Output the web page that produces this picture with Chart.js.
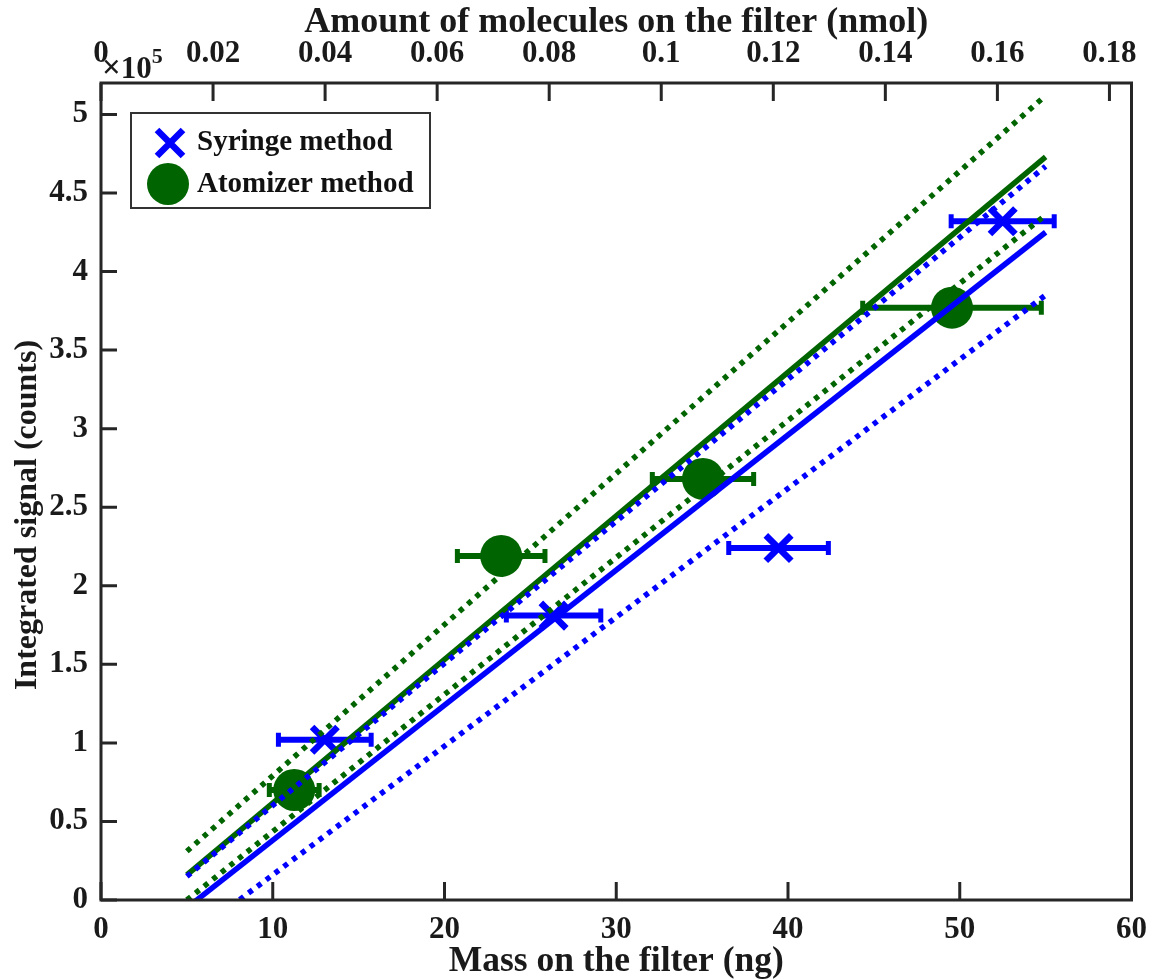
<!DOCTYPE html>
<html>
<head>
<meta charset="utf-8">
<script src="https://cdn.jsdelivr.net/npm/chart.js@4.4.1/dist/chart.umd.min.js"></script>
<style>
  html, body { margin: 0; padding: 0; background: #ffffff; }
  #wrap { width: 1158px; height: 980px; }
</style>
</head>
<body>
<div id="wrap"><canvas id="c" width="1158" height="980"></canvas></div>
<script>
// ---------------- data ----------------
const syringeMass   = [13.03, 26.35, 39.45, 52.5];  // ng
const syringeSignal = [1.02, 1.81, 2.24, 4.32];     // x1e5 counts
const syringeErr    = [2.7, 2.75, 2.9, 3.0];        // ng (horizontal error)

const atomizerMass   = [11.25, 23.3, 35.05, 49.55];
const atomizerSignal = [0.70, 2.19, 2.68, 3.77];
const atomizerErr    = [1.45, 2.55, 2.95, 5.2];

// fit lines and confidence bands (start / end)
const lineMass        = [5, 55];
const syringeFit      = [-0.05, 4.25];
const syringeUpper    = [0.15, 4.67];
const syringeLower    = [-0.25, 3.85];
const atomizerFit     = [0.16, 4.73];
const atomizerUpper   = [0.31, 5.12];
const atomizerLower   = [0.00, 4.36];

const massTicks   = [0, 10, 20, 30, 40, 50, 60];
const signalTicks = [0, 0.5, 1, 1.5, 2, 2.5, 3, 3.5, 4, 4.5, 5];
const nmolTicks   = [0, 0.02, 0.04, 0.06, 0.08, 0.1, 0.12, 0.14, 0.16, 0.18];
const ngPerNmol   = 326.2;
const yTitle      = 'Integrated signal (counts)';

const BLUE = '#0000ff';
const GREEN = '#006400';
const AXIS = '#262626';
const FONT = "'Liberation Serif', 'Times New Roman', serif";

const pts = (xs, ys) => xs.map((x, i) => ({ x: x, y: ys[i] }));

// ---------------- plugin: box, inward ticks, error bars, legend, exponent ----------------
const overlay = {
  id: 'overlay',
  beforeDatasetsDraw(chart) {
    const ctx = chart.ctx, xs = chart.scales.x, ys = chart.scales.y;
    const drawErr = (xArr, yArr, eArr, color) => {
      ctx.save();
      ctx.strokeStyle = color; ctx.lineCap = 'butt';
      xArr.forEach((x, i) => {
        const y = ys.getPixelForValue(yArr[i]);
        const x0 = xs.getPixelForValue(x - eArr[i]);
        const x1 = xs.getPixelForValue(x + eArr[i]);
        ctx.lineWidth = 6;
        ctx.beginPath(); ctx.moveTo(x0, y); ctx.lineTo(x1, y); ctx.stroke();
        ctx.lineWidth = 5;
        ctx.beginPath();
        ctx.moveTo(x0, y - 7); ctx.lineTo(x0, y + 7);
        ctx.moveTo(x1, y - 7); ctx.lineTo(x1, y + 7);
        ctx.stroke();
      });
      ctx.restore();
    };
    drawErr(syringeMass, syringeSignal, syringeErr, BLUE);
    drawErr(atomizerMass, atomizerSignal, atomizerErr, GREEN);
  },
  afterDraw(chart) {
    const ctx = chart.ctx, a = chart.chartArea;
    const xs = chart.scales.x, x2 = chart.scales.x2, ys = chart.scales.y;
    ctx.save();
    ctx.strokeStyle = AXIS; ctx.lineWidth = 3;
    // ticks (inward)
    ctx.beginPath();
    massTicks.forEach(v => { const p = xs.getPixelForValue(v); ctx.moveTo(p, a.bottom); ctx.lineTo(p, a.bottom - 18); });
    nmolTicks.forEach(v => { const p = x2.getPixelForValue(v); ctx.moveTo(p, a.top); ctx.lineTo(p, a.top + 18); });
    signalTicks.forEach(v => { const p = ys.getPixelForValue(v); ctx.moveTo(a.left, p); ctx.lineTo(a.left + 16, p); });
    ctx.stroke();
    // box
    ctx.strokeRect(a.left, a.top, a.right - a.left, a.bottom - a.top);

    // y axis title
    ctx.fillStyle = '#1a1a1a';
    ctx.save();
    ctx.translate(28, 515);
    ctx.rotate(-Math.PI / 2);
    ctx.font = `bold 32px ${FONT}`;
    ctx.textAlign = 'center';
    ctx.textBaseline = 'middle';
    ctx.fillText(yTitle, 0, 0);
    ctx.restore();

    // exponent label
    ctx.textBaseline = 'alphabetic';
    ctx.textAlign = 'left';
    ctx.font = `bold 33px ${FONT}`;
    ctx.fillText('\u00d7', a.left + 1, 78);
    const wx = ctx.measureText('\u00d7').width;
    ctx.font = `bold 31px ${FONT}`;
    ctx.fillText('10', a.left + 1 + wx, 78);
    const w10 = ctx.measureText('10').width;
    ctx.font = `bold 22px ${FONT}`;
    ctx.fillText('5', a.left + 1 + wx + w10, 63);

    // legend
    const lx = 131, ly = 113, lw = 299, lh = 95;
    ctx.fillStyle = '#ffffff';
    ctx.fillRect(lx, ly, lw, lh);
    ctx.lineWidth = 2; ctx.strokeStyle = '#333333';
    ctx.strokeRect(lx, ly, lw, lh);
    // X marker
    ctx.strokeStyle = BLUE; ctx.lineWidth = 6.5;
    const mx = 170, my = 143, r = 13;
    ctx.beginPath();
    ctx.moveTo(mx - r, my - r); ctx.lineTo(mx + r, my + r);
    ctx.moveTo(mx + r, my - r); ctx.lineTo(mx - r, my + r);
    ctx.stroke();
    // circle marker
    ctx.fillStyle = GREEN;
    ctx.beginPath(); ctx.arc(168, 184, 21, 0, Math.PI * 2); ctx.fill();
    ctx.fillStyle = '#111111';
    ctx.font = `bold 29px ${FONT}`;
    ctx.textBaseline = 'middle';
    ctx.fillText(chart.data.datasets[0].label, 197, 143);
    ctx.fillText(chart.data.datasets[1].label, 197, 185);
    ctx.restore();
  }
};

// ---------------- chart ----------------
const lineDs = (label, ys, color, dotted) => ({
  type: 'line', label, data: pts(lineMass, ys),
  borderColor: color, borderWidth: 5.5, borderDash: dotted ? [5, 6] : [],
  borderCapStyle: 'butt', pointRadius: 0, fill: false, tension: 0,
  xAxisID: 'x', yAxisID: 'y', order: 1
});

new Chart(document.getElementById('c'), {
  type: 'scatter',
  data: {
    datasets: [
      { label: 'Syringe method', data: pts(syringeMass, syringeSignal),
        pointStyle: 'crossRot', pointRadius: 18, pointBorderWidth: 6.5,
        borderColor: BLUE, backgroundColor: BLUE, order: 2 },
      { label: 'Atomizer method', data: pts(atomizerMass, atomizerSignal),
        pointStyle: 'circle', pointRadius: 21, pointBorderWidth: 0,
        borderColor: GREEN, backgroundColor: GREEN, order: 2 },
      lineDs('Syringe fit', syringeFit, BLUE, false),
      lineDs('Syringe upper', syringeUpper, BLUE, true),
      lineDs('Syringe lower', syringeLower, BLUE, true),
      lineDs('Atomizer fit', atomizerFit, GREEN, false),
      lineDs('Atomizer upper', atomizerUpper, GREEN, true),
      lineDs('Atomizer lower', atomizerLower, GREEN, true)
    ]
  },
  options: {
    responsive: false,
    animation: false,
    layout: { padding: { left: 0, right: 20, top: 0, bottom: 0 } },
    plugins: { legend: { display: false }, tooltip: { enabled: false } },
    scales: {
      x: {
        type: 'linear', position: 'bottom', min: 0, max: 60,
        afterFit: s => { s.height = 80; },
        afterBuildTicks: s => { s.ticks = massTicks.map(v => ({ value: v })); },
        grid: { display: false, drawTicks: false },
        border: { display: false },
        ticks: { color: '#1a1a1a', padding: 11, maxRotation: 0, font: { family: FONT, size: 31, weight: 'bold' } },
        title: { display: true, text: 'Mass on the filter (ng)', color: '#1a1a1a', padding: { top: 0, bottom: -3 },
                 font: { family: FONT, size: 35.5, weight: 'bold' } }
      },
      x2: {
        type: 'linear', position: 'top', min: 0, max: 60 / ngPerNmol,
        afterFit: s => { s.height = 83; },
        afterBuildTicks: s => { s.ticks = nmolTicks.map(v => ({ value: v })); },
        grid: { display: false, drawTicks: false },
        border: { display: false },
        ticks: { color: '#1a1a1a', padding: 10, maxRotation: 0, font: { family: FONT, size: 31, weight: 'bold' },
                 callback: v => String(+v.toFixed(2)) },
        title: { display: true, text: 'Amount of molecules on the filter (nmol)', color: '#1a1a1a', padding: { top: 1, bottom: 0 },
                 font: { family: FONT, size: 36, weight: 'bold' } }
      },
      y: {
        type: 'linear', position: 'left', min: 0, max: 5.2,
        afterFit: s => { s.width = 101; },
        afterBuildTicks: s => { s.ticks = signalTicks.map(v => ({ value: v })); },
        grid: { display: false, drawTicks: false },
        border: { display: false },
        ticks: { color: '#1a1a1a', padding: 13, font: { family: FONT, size: 31, weight: 'bold' },
                 callback: v => String(v) },
        title: { display: false }
      }
    }
  },
  plugins: [overlay]
});
</script>
</body>
</html>
